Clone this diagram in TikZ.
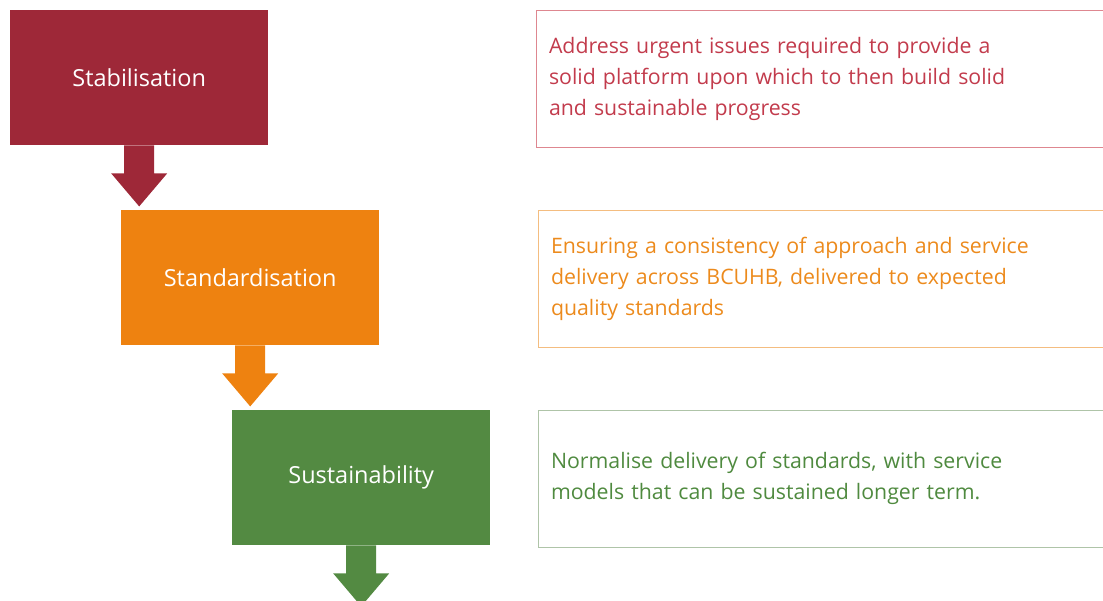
\documentclass[tikz,border=0pt]{standalone}
\usepackage{fontspec}
\setmainfont{Open Sans}
\usetikzlibrary{positioning}

\definecolor{stabfill}{HTML}{9E2838}
\definecolor{stabtext}{HTML}{C23B4C}
\definecolor{stabline}{HTML}{DE8790}
\definecolor{standfill}{HTML}{EE8210}
\definecolor{standtext}{HTML}{EC8A1C}
\definecolor{standline}{HTML}{F4BD80}
\definecolor{sustfill}{HTML}{538A42}
\definecolor{susttext}{HTML}{4F8A3F}
\definecolor{sustline}{HTML}{AFC4A8}

\tikzset{
  stage/.style={fill=#1, text=white, minimum width=258pt, minimum height=135pt,
    inner sep=0pt, anchor=north west, font=\fontsize{23.5}{28}\selectfont},
  note/.style={draw=#1, line width=1pt, text width=541pt, inner xsep=13pt,
    minimum height=137pt, align=left, anchor=north west,
    font=\fontsize{21.3}{31}\selectfont},
}

\begin{document}
\begin{tikzpicture}[x=1pt,y=-1pt]

\useasboundingbox (0,0) rectangle (1103,600);

% stages
\node[stage=stabfill]  (stab)  at (10,10)  {Stabilisation};
\node[stage=standfill] (stand) at (121,210) {Standardisation};
\node[stage=sustfill]  (sust)  at (232,410) {Sustainability};

% descriptions
\node[note=stabline, text=stabtext] (stabtxt) at (535.5,9.5)
  {Address urgent issues required to provide a\\
   solid platform upon which to then build solid\\
   and sustainable progress};
\node[note=standline, text=standtext] (standtxt) at (537.5,209.5)
  {Ensuring a consistency of approach and service\\
   delivery across BCUHB, delivered to expected\\
   quality standards};
\node[note=sustline, text=susttext] (susttxt) at (537.5,409.5)
  {Normalise delivery of standards, with service\\
   models that can be sustained longer term.};

% block arrows
\foreach \n/\c in {stab/stabfill, stand/standfill, sust/sustfill}
  \fill[\c, shift={(\n.south)}] (-15,0) -- (-15,28) -- (-28,28) -- (0,61)
    -- (28,28) -- (15,28) -- (15,0) -- cycle;

\end{tikzpicture}
\end{document}
